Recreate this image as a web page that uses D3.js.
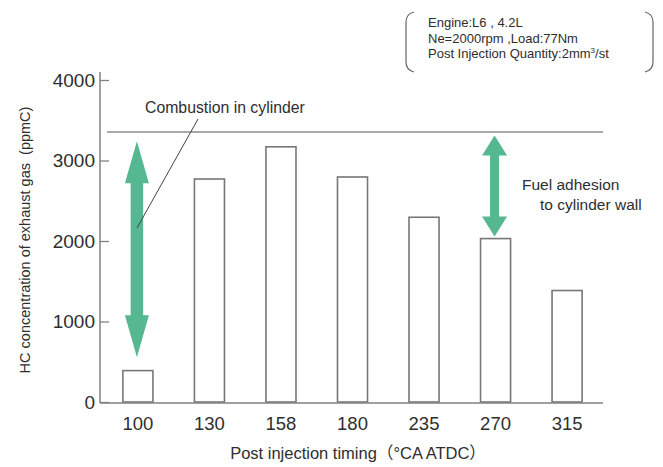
<!DOCTYPE html>
<html>
<head>
<meta charset="utf-8">
<script src="https://cdn.jsdelivr.net/npm/d3@7"></script>
<style>
  html, body { margin: 0; padding: 0; background: #fff; }
  svg { display: block; }
  text { font-family: "Liberation Sans", Arial, "Noto Sans CJK JP", sans-serif; fill: #2e2e2e; }
</style>
</head>
<body>
<svg id="chart" width="663" height="467"></svg>
<script>
// Post injection timing (°CA ATDC) and measured HC concentration (ppmC)
const timings = ["100", "130", "158", "180", "235", "270", "315"];
const hcValues = [390, 2770, 3170, 2795, 2295, 2030, 1385];
const yTicks = [0, 1000, 2000, 3000, 4000];

// HC level with combustion in the cylinder (reference line)
const combustionLevel = 3355;
// Double arrows: [timing, lower tip, upper tip] in ppmC
const arrowSpans = [["100", 555, 3240], ["270", 2055, 3310]];

const conditionLines = ["Engine:L6 , 4.2L", "Ne=2000rpm ,Load:77Nm", "Post Injection Quantity:2mm"];

const svg = d3.select("#chart");
const axisColor = "#808080";
const green = "#55b890";

const x = d3.scaleBand().domain(timings).range([100, 605]).paddingInner(0.58).paddingOuter(0.32);
const y = d3.scaleLinear().domain([0, 4000]).range([402, 80]);

// bars
svg.append("g").selectAll("rect").data(timings).join("rect")
  .attr("x", d => x(d))
  .attr("y", (d, i) => y(hcValues[i]))
  .attr("width", x.bandwidth())
  .attr("height", (d, i) => y(0) - y(hcValues[i]))
  .attr("fill", "#fff")
  .attr("stroke", "#777")
  .attr("stroke-width", 1.6);

// y axis: ticks pointing inward, labels outside
const yAxis = svg.append("g").attr("transform", "translate(100,0)")
  .call(d3.axisRight(y).tickValues(yTicks).tickSize(9).tickFormat(""));
yAxis.select(".domain").remove();
yAxis.selectAll("line").attr("stroke", axisColor).attr("stroke-width", 1.3);
svg.append("line").attr("x1", 100).attr("x2", 100).attr("y1", y(4000) - 8).attr("y2", y(0) + 1)
  .attr("stroke", axisColor).attr("stroke-width", 1.5);
svg.append("g").selectAll("text").data(yTicks).join("text")
  .attr("x", 95).attr("y", d => y(d)).attr("dy", "0.36em")
  .attr("text-anchor", "end").attr("font-size", 19).text(d => d);

// x axis baseline and labels
svg.append("line").attr("x1", 100).attr("x2", 603).attr("y1", y(0) + 1).attr("y2", y(0) + 1)
  .attr("stroke", axisColor).attr("stroke-width", 1.5);
svg.append("g").selectAll("text").data(timings).join("text")
  .attr("x", d => x(d) + x.bandwidth() / 2).attr("y", 430)
  .attr("text-anchor", "middle").attr("font-size", 18.5).text(d => d);

// axis titles
svg.append("text").attr("x", 358).attr("y", 459).attr("text-anchor", "middle")
  .attr("font-size", 16.5).text("Post injection timing（°CA ATDC）");
svg.append("text").attr("transform", "translate(30,240) rotate(-90)").attr("text-anchor", "middle")
  .attr("font-size", 14.5).style("white-space", "pre")
  .text("HC concentration of exhaust gas  (ppmC)");

// combustion reference line
svg.append("line").attr("x1", 107).attr("x2", 603)
  .attr("y1", y(combustionLevel)).attr("y2", y(combustionLevel))
  .attr("stroke", "#8c8c8c").attr("stroke-width", 1.5);

// double-headed arrows
function doubleArrow(cx, yTop, yBot, headW, headL, shaftW) {
  const p = d3.path();
  p.moveTo(cx, yTop);
  p.lineTo(cx + headW / 2, yTop + headL);
  p.lineTo(cx + shaftW / 2, yTop + headL);
  p.lineTo(cx + shaftW / 2, yBot - headL);
  p.lineTo(cx + headW / 2, yBot - headL);
  p.lineTo(cx, yBot);
  p.lineTo(cx - headW / 2, yBot - headL);
  p.lineTo(cx - shaftW / 2, yBot - headL);
  p.lineTo(cx - shaftW / 2, yTop + headL);
  p.lineTo(cx - headW / 2, yTop + headL);
  p.closePath();
  return p.toString();
}
const arrowDims = [[24, 42, 12.5], [25, 20, 9]];
svg.append("g").selectAll("path").data(arrowSpans).join("path")
  .attr("d", (d, i) => doubleArrow(x(d[0]) + x.bandwidth() / 2 - 1, y(d[2]), y(d[1]),
    arrowDims[i][0], arrowDims[i][1], arrowDims[i][2]))
  .attr("fill", green);

// leader line and label for combustion
svg.append("line").attr("x1", 137).attr("y1", 228).attr("x2", 198).attr("y2", 119)
  .attr("stroke", "#444").attr("stroke-width", 1);
svg.append("text").attr("x", 145).attr("y", 113).attr("font-size", 15.8).text("Combustion in cylinder");

// fuel adhesion label
svg.append("text").attr("x", 522).attr("y", 190).attr("font-size", 15.5).text("Fuel adhesion");
svg.append("text").attr("x", 540).attr("y", 210).attr("font-size", 15.5).text("to cylinder wall");

// operating conditions in brackets
const cond = svg.append("g");
cond.append("path").attr("d", "M414,12 Q406,14 406,22 L406,62 Q406,70 414,72")
  .attr("fill", "none").attr("stroke", "#666").attr("stroke-width", 1.2);
cond.append("path").attr("d", "M645,12 Q653,14 653,22 L653,62 Q653,70 645,72")
  .attr("fill", "none").attr("stroke", "#666").attr("stroke-width", 1.2);
const condText = cond.selectAll("text").data(conditionLines).join("text")
  .attr("x", 428).attr("y", (d, i) => 27 + i * 15.5)
  .attr("font-size", 13).text(d => d);
condText.filter((d, i) => i === 2).append("tspan").attr("font-size", 8).attr("dy", -5).text("3");
condText.filter((d, i) => i === 2).append("tspan").attr("dy", 5).text("/st");
</script>
</body>
</html>
